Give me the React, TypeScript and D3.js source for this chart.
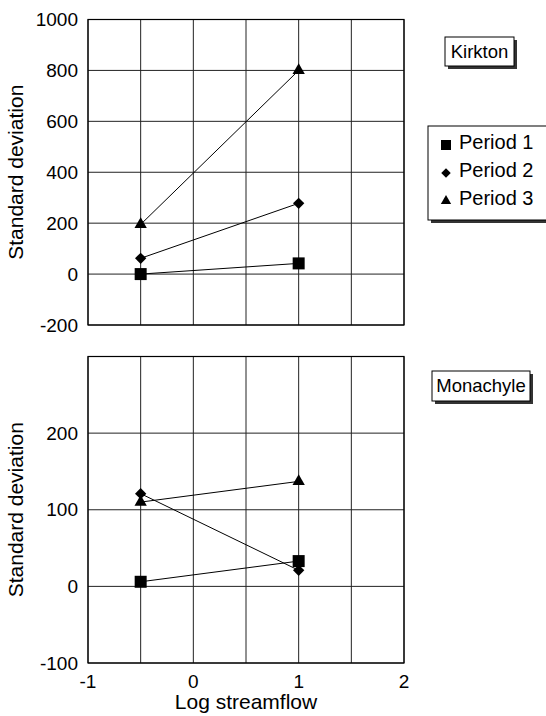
import React from 'react';
import * as d3 from 'd3';

// log streamflow positions of the two measurements
const xValues = [-0.5, 1];
const seriesNames = ['Period 1', 'Period 2', 'Period 3'];

// Kirkton
const kirktonP1 = [0, 42];
const kirktonP2 = [62, 278];
const kirktonP3 = [195, 800];
// Monachyle
const monachyleP1 = [6, 33];
const monachyleP2 = [121, 21];
const monachyleP3 = [110, 137];

const xTickLabels = [-1, 0, 1, 2];
const xGrid = [-1, -0.5, 0, 0.5, 1, 1.5, 2];
const kirktonTicks = [-200, 0, 200, 400, 600, 800, 1000];
const monachyleTicks = [-100, 0, 100, 200];
const monachyleGrid = [-100, 0, 100, 200, 300];

const FONT = '"Liberation Sans", Arial, sans-serif';
const W = 546;
const H = 716;

const x = d3.scaleLinear().domain([-1, 2]).range([88, 404]);

// square, diamond (rotated square), triangle
const symbols = [d3.symbolSquare, d3.symbolSquare, d3.symbolTriangle];
const symbolSizes = [144, 64, 66];
const symbolRot = [0, 45, 0];

const Marker = ({ i, cx, cy, scale = 1 }: { i: number; cx: number; cy: number; scale?: number }) => (
  <path
    transform={`translate(${cx},${cy}) rotate(${symbolRot[i]})`}
    d={d3.symbol().type(symbols[i]).size(symbolSizes[i] * scale)() as string}
    fill="#000"
  />
);

const Panel = ({
  top, bottom, domain, ticks, grid, series, title, titleBox, showX,
}: {
  top: number; bottom: number; domain: [number, number]; ticks: number[]; grid: number[];
  series: number[][]; title: string; titleBox: { x: number; y: number; w: number; h: number }; showX: boolean;
}) => {
  const y = d3.scaleLinear().domain(domain).range([bottom, top]);
  const line = d3.line<number>().x((_, i) => x(xValues[i])).y(d => y(d));
  const [x0, x1] = x.range();
  return (
    <g>
      {grid.map(v => (
        <line key={'h' + v} x1={x0} x2={x1} y1={y(v)} y2={y(v)} stroke="#222" strokeWidth={1} />
      ))}
      {xGrid.map(v => (
        <line key={'v' + v} x1={x(v)} x2={x(v)} y1={top} y2={bottom} stroke="#222" strokeWidth={1} />
      ))}
      <rect x={x0} y={top} width={x1 - x0} height={bottom - top} fill="none" stroke="#000" strokeWidth={1.2} />
      {ticks.map(v => (
        <text key={'t' + v} x={78} y={y(v)} dy="0.35em" textAnchor="end" fontSize={19} fontFamily={FONT}>
          {v}
        </text>
      ))}
      {showX && xTickLabels.map(v => (
        <text key={'x' + v} x={x(v)} y={bottom + 25} textAnchor="middle" fontSize={19} fontFamily={FONT}>
          {v}
        </text>
      ))}
      <text
        transform={`translate(23,${(top + bottom) / 2}) rotate(-90)`}
        textAnchor="middle"
        fontSize={21}
        fontFamily={FONT}
      >
        Standard deviation
      </text>
      {series.map((s, i) => (
        <path key={'l' + i} d={line(s) as string} fill="none" stroke="#000" strokeWidth={1} />
      ))}
      {series.map((s, i) =>
        s.map((v, j) => <Marker key={`m${i}-${j}`} i={i} cx={x(xValues[j])} cy={y(v)} />)
      )}
      <rect x={titleBox.x + 3} y={titleBox.y + 3} width={titleBox.w} height={titleBox.h} fill="#333" />
      <rect x={titleBox.x} y={titleBox.y} width={titleBox.w} height={titleBox.h} fill="#fff" stroke="#000" strokeWidth={1} />
      <text x={titleBox.x + titleBox.w / 2} y={titleBox.y + titleBox.h / 2} dy="0.35em" textAnchor="middle" fontSize={18.5} fontFamily={FONT}>
        {title}
      </text>
    </g>
  );
};

export default function App() {
  return (
    <svg width={W} height={H} style={{ position: 'absolute', left: 0, top: 0, background: '#fff' }}>
      <rect width={W} height={H} fill="#fff" />
      <Panel
        top={19.5}
        bottom={325}
        domain={[-200, 1000]}
        ticks={kirktonTicks}
        grid={kirktonTicks}
        series={[kirktonP1, kirktonP2, kirktonP3]}
        title="Kirkton"
        titleBox={{ x: 445, y: 37, w: 69, h: 29 }}
        showX={false}
      />
      <Panel
        top={356.5}
        bottom={663}
        domain={[-100, 300]}
        ticks={monachyleTicks}
        grid={monachyleGrid}
        series={[monachyleP1, monachyleP2, monachyleP3]}
        title="Monachyle"
        titleBox={{ x: 432, y: 371, w: 98, h: 30 }}
        showX={true}
      />
      {/* legend */}
      <g>
        <rect x={431} y={129} width={130} height={94} fill="#333" />
        <rect x={428} y={126} width={130} height={94} fill="#fff" stroke="#000" strokeWidth={1} />
        {seriesNames.map((n, i) => (
          <g key={n}>
            <Marker i={i} cx={446} cy={145 + i * 28} scale={0.7} />
            <text x={459} y={142 + i * 28} dy="0.35em" fontSize={20} fontFamily={FONT}>
              {n}
            </text>
          </g>
        ))}
      </g>
      <text x={x(0.5)} y={709} textAnchor="middle" fontSize={21} fontFamily={FONT}>
        Log streamflow
      </text>
    </svg>
  );
}
